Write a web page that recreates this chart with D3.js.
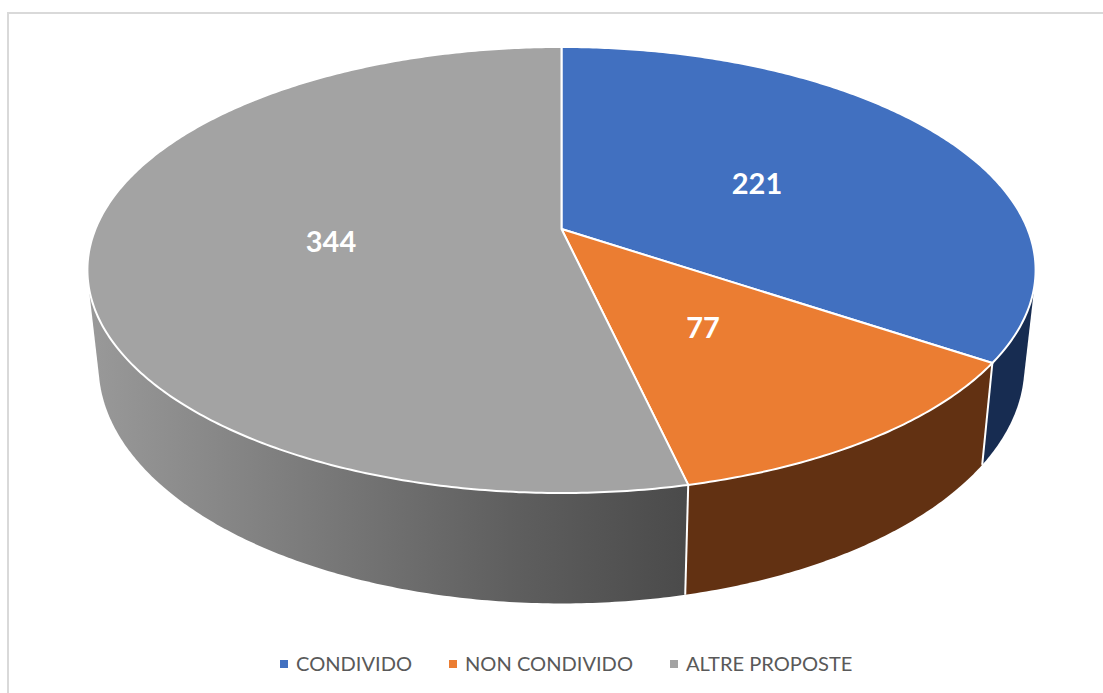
<!DOCTYPE html>
<html><head><meta charset="utf-8">
<script src="https://cdn.jsdelivr.net/npm/d3@7"></script>
<style>html,body{margin:0;padding:0;background:#fff;overflow:hidden}svg{display:block}</style>
</head><body><div id="c"></div>
<script>
const categories = ["CONDIVIDO", "NON CONDIVIDO", "ALTRE PROPOSTE"];
const values = [221, 77, 344];
const faceColors = ["#4170c0", "#eb7d32", "#a3a3a3"];
const sideColors = ["#172c51", "#623112", null];
const labelPos = [[757,182],[703,326],[331,240]];

const W = 1103, H = 693;
const svg = d3.select("#c").append("svg").attr("width",W).attr("height",H);

// Perspective projection of a flat disc: top face and bottom face
const k = 0.1838;
const topFace = {cx:561.5, cy:229, a:466, b:215.5};
const botFace = {cx:561.5, cy:322, a:455, b:229.7};
function project(f, t){
  const x = Math.sin(t), y = -Math.cos(t), d = 1 - k*y;
  return [f.cx + f.a*x/d, f.cy + f.b*y/d];
}
const pie = d3.pie().sort(null).value(d=>d);
const arcs = pie(values);
const line = d3.line();
function samples(a0,a1){
  const n = Math.max(2, Math.ceil(Math.abs(a1-a0)/0.01));
  return d3.range(n+1).map(i=>a0+(a1-a0)*i/n);
}
const rad = Math.PI/180;

// gradient for the grey rim
const defs = svg.append("defs");
const g = defs.append("linearGradient").attr("id","greySide").attr("gradientUnits","userSpaceOnUse")
  .attr("x1",90).attr("x2",690).attr("y1",0).attr("y2",0);
[[0,"#999999"],[0.35,"#7c7c7c"],[0.7,"#5f5f5f"],[1,"#4a4a4a"]].forEach(s=>g.append("stop").attr("offset",s[0]).attr("stop-color",s[1]));

// frame
svg.append("rect").attr("x",8).attr("y",13).attr("width",1200).attr("height",800)
  .attr("fill","#fff").attr("stroke","#d9d9d9").attr("stroke-width",2);

// rim: the hull of each slice's top and bottom arcs; the top face covers what lies behind it
const sideRanges = [[arcs[0].startAngle+70*rad, arcs[0].endAngle],[arcs[1].startAngle,arcs[1].endAngle],[arcs[2].startAngle, arcs[2].startAngle+125*rad]];
const sides = svg.append("g");
sideRanges.forEach((r,i)=>{
  const ts = samples(r[0],r[1]);
  const hull = d3.polygonHull(ts.map(t=>project(topFace,t)).concat(ts.map(t=>project(botFace,t))));
  sides.append("path").attr("d",line(hull)+"Z").attr("fill",sideColors[i]||"url(#greySide)");
});
// white separators on the rim
[arcs[0].endAngle, arcs[1].endAngle].forEach(t=>{
  sides.append("path").attr("d",line([project(topFace,t),project(botFace,t)]))
    .attr("stroke","#fff").attr("stroke-width",2).attr("fill","none");
});

// top face
const faces = svg.append("g");
arcs.forEach((a,i)=>{
  const pts = [[topFace.cx,topFace.cy]].concat(samples(a.startAngle,a.endAngle).map(t=>project(topFace,t)));
  faces.append("path").attr("d",line(pts)+"Z").attr("fill",faceColors[i])
    .attr("stroke","#fff").attr("stroke-width",2).attr("stroke-linejoin","round");
});

// value labels
svg.append("g").selectAll("text").data(values).join("text")
  .attr("x",(d,i)=>labelPos[i][0]).attr("y",(d,i)=>labelPos[i][1])
  .attr("text-anchor","middle").attr("dominant-baseline","central")
  .attr("font-family","Lato, 'Open Sans', sans-serif").attr("font-weight",700).attr("font-size",29)
  .attr("fill","#fff").text(d=>d);

// legend
const legendMarkerX = [280,449,670];
const legendTextX = [296,465,686];
const lg = svg.append("g");
categories.forEach((c,i)=>{
  lg.append("rect").attr("x",legendMarkerX[i]).attr("y",660).attr("width",8).attr("height",8).attr("fill",faceColors[i]);
  lg.append("text").attr("x",legendTextX[i]).attr("y",671)
    .attr("font-family","Lato, sans-serif").attr("font-size",20.1).attr("fill","#595959").text(c);
});
</script></body></html>
